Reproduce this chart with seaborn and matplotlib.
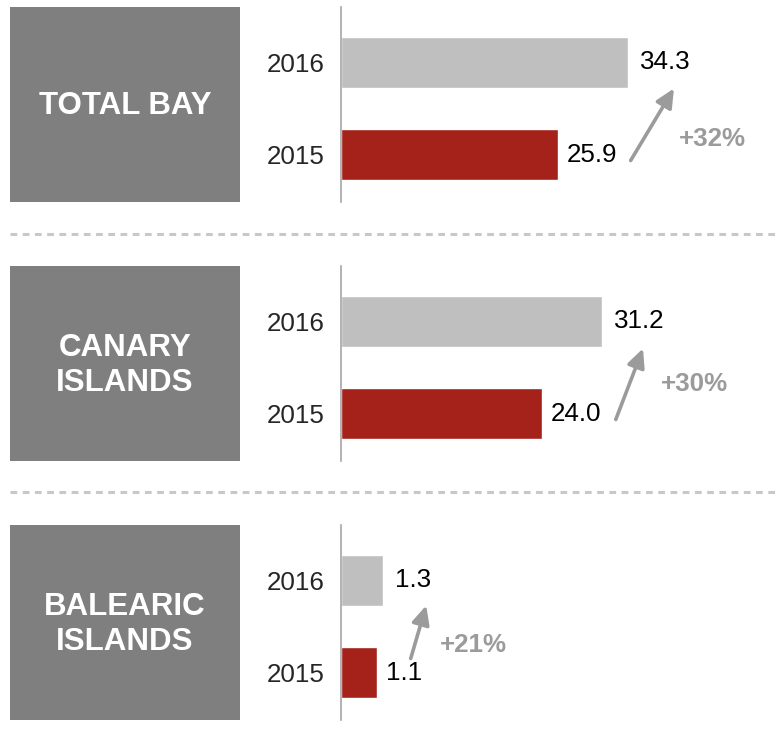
import matplotlib
matplotlib.use('Agg')
import matplotlib.pyplot as plt
import matplotlib.transforms as mtransforms
from matplotlib.lines import Line2D
import pandas as pd
import seaborn as sns

# data
regions = ['TOTAL BAY', 'CANARY\nISLANDS', 'BALEARIC\nISLANDS']
years = ['2016', '2015']
values_2016 = [34.3, 31.2, 1.3]
values_2015 = [25.9, 24.0, 1.1]
growth = ['+32%', '+30%', '+21%']

# styling / layout (pixels on a 776x746 canvas)
W, H = 776, 746
panel_tops = [7, 266, 525]
panel_h = 195
x_max = [52, 52, 13.4]
colors = {'2016': '#bfbfbf', '2015': '#a5221a'}
box_color = '#7f7f7f'
accent = '#9b9b9b'
# arrow tail offset from 2015 bar end, head offset from 2016 bar end (dx, dy px, y up)
arrow_tail = [(73, -6), (74, -6), (34, 14)]
arrow_head = [(46, -26), (41, -27), (43, -25)]
pct_pos = [(121, 16), (119, 30), (63, 28)]

sns.set_style('white')
plt.rcParams['font.family'] = ['Liberation Sans', 'DejaVu Sans']

fig = plt.figure(figsize=(W / 100, H / 100), dpi=100)

for i, region in enumerate(regions):
    bottom = 1 - (panel_tops[i] + panel_h) / H
    height = panel_h / H

    # grey label box
    box = fig.add_axes([10 / W, bottom, 230 / W, height])
    box.set_facecolor(box_color)
    box.set_xticks([])
    box.set_yticks([])
    for s in box.spines.values():
        s.set_visible(False)
    box.text(0.5, 0.49, region, color='white', fontsize=22.5, fontweight='bold',
             ha='center', va='center', linespacing=1.25, transform=box.transAxes)

    # bars
    ax = fig.add_axes([341 / W, bottom, (W - 341) / W, height])
    df = pd.DataFrame({'year': years, 'value': [values_2016[i], values_2015[i]]})
    sns.barplot(data=df, x='value', y='year', hue='year', order=years,
                hue_order=years, palette=colors, orient='h', width=0.555,
                legend=False, saturation=1, ax=ax)
    ax.set_xlim(0, x_max[i])
    ax.set_ylim(1.516, -0.603)
    ax.set_xlabel('')
    ax.set_ylabel('')
    ax.set_xticks([])
    ax.tick_params(axis='y', length=0, pad=11.5, labelsize=18.7)
    for side in ['top', 'right', 'bottom']:
        ax.spines[side].set_visible(False)
    ax.spines['left'].set_color('#a6a6a6')
    ax.spines['left'].set_linewidth(1.2)

    for cont, pad in zip(ax.containers, [8.5, 6.5]):
        ax.bar_label(cont, fmt='%.1f', padding=pad, fontsize=18.7, color='black')

    # growth arrow
    head_tr = mtransforms.offset_copy(ax.transData, fig=fig, x=arrow_head[i][0],
                                      y=arrow_head[i][1], units='dots')
    tail_tr = mtransforms.offset_copy(ax.transData, fig=fig, x=arrow_tail[i][0],
                                      y=arrow_tail[i][1], units='dots')
    ax.annotate('', xy=(values_2016[i], 0), xycoords=head_tr,
                xytext=(values_2015[i], 1), textcoords=tail_tr,
                arrowprops=dict(arrowstyle='-|>,head_length=0.8,head_width=0.38',
                                mutation_scale=14, lw=2.6, color=accent,
                                shrinkA=0, shrinkB=0),
                annotation_clip=False)
    pct_tr = mtransforms.offset_copy(ax.transData, fig=fig, x=pct_pos[i][0],
                                     y=pct_pos[i][1], units='dots')
    ax.text(values_2015[i], 1, growth[i], transform=pct_tr, fontsize=18.7,
            fontweight='bold', color=accent, ha='left', va='center', clip_on=False)

# dashed separators
for y in [234, 492]:
    fig.add_artist(Line2D([10 / W, 775 / W], [1 - y / H] * 2, transform=fig.transFigure,
                          color='#c8c8c8', lw=2.2, dashes=(2.2, 1.8)))

fig.savefig('out.png', dpi=100)
